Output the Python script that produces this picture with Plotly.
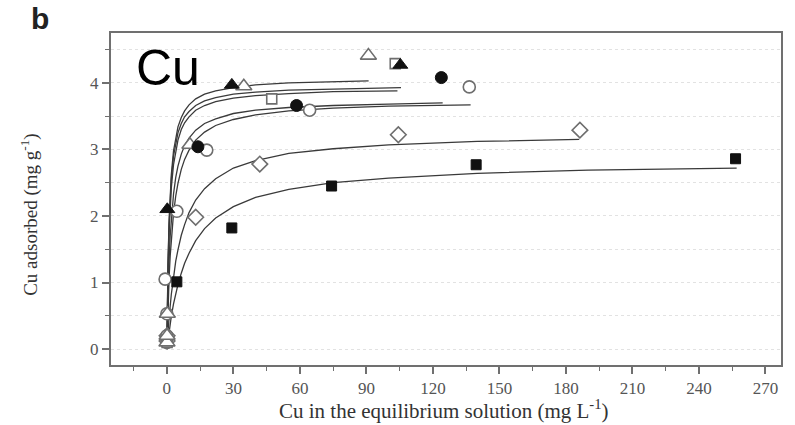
import plotly.graph_objects as go

# ---- measured points (Cu in solution, Cu adsorbed) ----
tri_open_x = [0.05, 0.1, 0.2, 10.4, 34.7, 90.9]
tri_open_y = [0.10, 0.20, 0.53, 3.07, 3.95, 4.41]
tri_fill_x = [0.2, 29.3, 105.3]
tri_fill_y = [2.10, 3.97, 4.27]
sq_open_x = [0.1, 47.3, 103.0]
sq_open_y = [0.10, 3.76, 4.29]
circ_fill_x = [14.0, 58.5, 123.8]
circ_fill_y = [3.04, 3.66, 4.08]
circ_open_x = [0.0, 0.0, 0.0, -0.8, 4.5, 18.0, 64.4, 136.4]
circ_open_y = [0.10, 0.20, 0.53, 1.05, 2.07, 2.99, 3.59, 3.94]
dia_open_x = [0.1, 0.1, 13.0, 41.9, 104.4, 186.3]
dia_open_y = [0.12, 0.20, 1.98, 2.78, 3.22, 3.29]
sq_fill_x = [4.5, 29.3, 74.3, 139.5, 256.5]
sq_fill_y = [1.01, 1.82, 2.45, 2.77, 2.86]

# ---- fitted curves ----
fit_tri_open_x = [0, 0.25, 0.5, 1, 1.5, 2, 3, 4, 5, 6.5, 8, 10, 13, 17, 22, 30, 40, 55, 75, 91]
fit_tri_open_y = [0, 0.75, 1.27, 1.93, 2.34, 2.62, 2.98, 3.19, 3.34, 3.48, 3.58, 3.67, 3.76, 3.83, 3.88, 3.93, 3.97, 4.00, 4.02, 4.03]
fit_tri_fill_x = [0, 0.25, 0.5, 1, 1.5, 2, 3, 4, 5, 6.5, 8, 10, 13, 17, 22, 30, 40, 55, 75, 100, 105.6]
fit_tri_fill_y = [0, 0.73, 1.23, 1.88, 2.28, 2.55, 2.90, 3.11, 3.25, 3.39, 3.49, 3.57, 3.66, 3.73, 3.78, 3.83, 3.86, 3.89, 3.91, 3.93, 3.93]
fit_sq_open_x = [0, 0.25, 0.5, 1, 1.5, 2, 3, 4, 5, 6.5, 8, 10, 13, 17, 22, 30, 40, 55, 75, 104]
fit_sq_open_y = [0, 0.66, 1.12, 1.75, 2.14, 2.42, 2.77, 2.99, 3.14, 3.30, 3.40, 3.49, 3.59, 3.66, 3.72, 3.77, 3.81, 3.84, 3.87, 3.88]
fit_circ_fill_x = [0, 0.25, 0.5, 1, 1.5, 2, 3, 4, 5, 6.5, 8, 10, 13, 17, 22, 30, 40, 55, 75, 100, 124.4]
fit_circ_fill_y = [0, 0.45, 0.81, 1.33, 1.70, 1.96, 2.33, 2.58, 2.75, 2.93, 3.06, 3.17, 3.29, 3.39, 3.46, 3.54, 3.59, 3.63, 3.66, 3.68, 3.70]
fit_circ_open_x = [0, 0.25, 0.5, 1, 1.5, 2, 3, 4, 5, 6.5, 8, 10, 13, 17, 22, 30, 40, 55, 75, 100, 137]
fit_circ_open_y = [0, 0.34, 0.62, 1.07, 1.40, 1.66, 2.04, 2.30, 2.49, 2.70, 2.85, 2.99, 3.14, 3.26, 3.36, 3.45, 3.52, 3.58, 3.62, 3.65, 3.67]
fit_dia_x = [0, 0.5, 1, 2, 3, 4, 5, 6.5, 8, 10, 13, 17, 22, 30, 40, 55, 75, 100, 140, 186]
fit_dia_y = [0, 0.25, 0.47, 0.82, 1.10, 1.32, 1.49, 1.71, 1.87, 2.05, 2.24, 2.41, 2.56, 2.72, 2.83, 2.94, 3.01, 3.07, 3.12, 3.15]
fit_sq_fill_x = [0, 0.5, 1, 2, 3, 4, 5, 6.5, 8, 10, 13, 17, 22, 30, 40, 55, 75, 100, 140, 190, 257]
fit_sq_fill_y = [0, 0.14, 0.27, 0.49, 0.68, 0.83, 0.97, 1.14, 1.29, 1.44, 1.63, 1.81, 1.97, 2.14, 2.28, 2.40, 2.50, 2.57, 2.64, 2.69, 2.72]

x_ticks = [0, 30, 60, 90, 120, 150, 180, 210, 240, 270]
y_ticks = [0, 1, 2, 3, 4]

fig = go.Figure()

line_style = dict(color="#3a3a3a", width=1.3)
fits = [
    (fit_sq_fill_x, fit_sq_fill_y),
    (fit_dia_x, fit_dia_y),
    (fit_circ_open_x, fit_circ_open_y),
    (fit_circ_fill_x, fit_circ_fill_y),
    (fit_sq_open_x, fit_sq_open_y),
    (fit_tri_fill_x, fit_tri_fill_y),
    (fit_tri_open_x, fit_tri_open_y),
]
for fx, fy in fits:
    fig.add_trace(go.Scatter(x=fx, y=fy, mode="lines", line=line_style,
                             showlegend=False, hoverinfo="skip"))

open_edge = dict(color="#6e6e6e", width=1.6)
fill_edge = dict(color="#111111", width=1)
series = [
    (dia_open_x, dia_open_y, "diamond", 12, "white", open_edge),
    (circ_open_x, circ_open_y, "circle", 12, "white", open_edge),
    (sq_open_x, sq_open_y, "square", 10, "white", open_edge),
    (tri_open_x, tri_open_y, "triangle-up", 14, "white", open_edge),
    (sq_fill_x, sq_fill_y, "square", 10, "#111111", fill_edge),
    (circ_fill_x, circ_fill_y, "circle", 12, "#111111", fill_edge),
    (tri_fill_x, tri_fill_y, "triangle-up", 13, "#111111", fill_edge),
]
for sx, sy, sym, size, col, edge in series:
    fig.add_trace(go.Scatter(x=sx, y=sy, mode="markers",
                             marker=dict(symbol=sym, size=size, color=col, line=edge),
                             showlegend=False, cliponaxis=False))

tick_font = dict(family="Liberation Serif", size=17, color="#555555")
fig.update_xaxes(
    range=[-25.2, 277], tickmode="array", tickvals=x_ticks,
    ticktext=[str(v) for v in x_ticks],
    showline=True, linecolor="#707070", linewidth=2, mirror=True,
    ticks="outside", ticklen=7, tickwidth=1.5, tickcolor="#707070",
    minor=dict(dtick=15, tick0=0, ticks="outside", ticklen=4, tickcolor="#707070", tickwidth=1.2),
    showgrid=False, zeroline=False, tickfont=tick_font,
)
fig.update_yaxes(
    range=[-0.24, 4.75], tickmode="array", tickvals=y_ticks,
    ticktext=[str(v) for v in y_ticks],
    showline=True, linecolor="#707070", linewidth=2, mirror=True,
    ticks="outside", ticklen=7, tickwidth=1.5, tickcolor="#707070",
    minor=dict(dtick=0.5, tick0=0, ticks="outside", ticklen=4, tickcolor="#707070",
               tickwidth=1.2, showgrid=True, gridcolor="#e2e2e2", griddash="dot", gridwidth=1),
    showgrid=True, gridcolor="#e2e2e2", griddash="dot", gridwidth=1,
    zeroline=False, tickfont=tick_font,
)

fig.update_layout(
    width=795, height=425,
    margin=dict(l=111, r=12, t=33, b=60),
    plot_bgcolor="white", paper_bgcolor="white",
    annotations=[
        dict(text="Cu in the equilibrium solution (mg L<sup>-1</sup>)", x=0.497, y=-0.135,
             xref="paper", yref="paper", xanchor="center", yanchor="middle", showarrow=False,
             font=dict(family="Liberation Serif", size=21, color="#333333")),
        dict(text="Cu adsorbed (mg g<sup>-1</sup>)", x=-0.121, y=0.455, textangle=-90,
             xref="paper", yref="paper", xanchor="center", yanchor="middle", showarrow=False,
             font=dict(family="Liberation Serif", size=19, color="#333333")),
        dict(text="<b>b</b>", x=-0.106, y=1.045, xref="paper", yref="paper",
             xanchor="center", yanchor="middle", showarrow=False,
             font=dict(family="Liberation Sans", size=30, color="#222222")),
        dict(text="Cu", x=0.034, y=0.895, xref="paper", yref="paper",
             xanchor="left", yanchor="middle", showarrow=False,
             font=dict(family="Liberation Sans", size=50, color="black")),
    ],
)

fig.write_html("out.html")
